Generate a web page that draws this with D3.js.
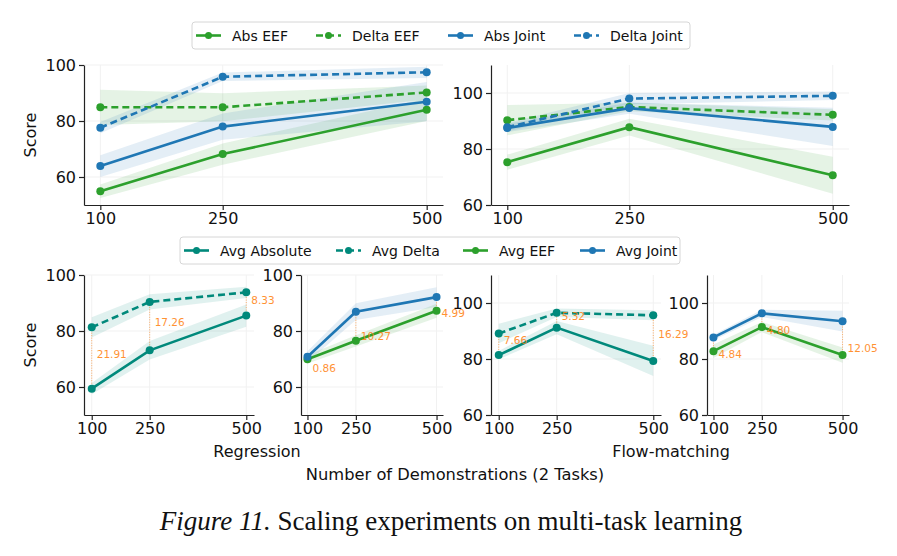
<!DOCTYPE html>
<html>
<head>
<meta charset="utf-8">
<script src="https://cdn.jsdelivr.net/npm/d3@7"></script>
<style>
  body { margin: 0; background: #fff; }
  svg text { font-family: "DejaVu Sans", sans-serif; }
</style>
</head>
<body>
<div id="chart"></div>
<script>

// x values shared by every panel
const demos = [100, 250, 500];
const yTicks = [60, 80, 100];

// Top-left (regression) per setting: mean score and std band
const regAbsEEF = [54.9, 68.2, 84.0];
const regAbsEEFStd = [2.4, 3.8, 4.0];
const regDeltaEEF = [84.9, 84.9, 90.2];
const regDeltaEEFStd = [6.3, 5.0, 2.5];
const regAbsJoint = [63.9, 78.0, 86.9];
const regAbsJointStd = [3.9, 4.7, 7.0];
const regDeltaJoint = [77.6, 95.8, 97.4];
const regDeltaJointStd = [2.0, 1.5, 2.0];

// Top-right (flow-matching)
const fmAbsEEF = [75.3, 87.8, 70.6];
const fmAbsEEFStd = [2.7, 3.0, 6.6];
const fmDeltaEEF = [90.3, 95.0, 92.2];
const fmDeltaEEFStd = [5.4, 1.5, 2.0];
const fmAbsJoint = [87.5, 94.6, 87.9];
const fmAbsJointStd = [1.5, 2.0, 6.8];
const fmDeltaJoint = [87.8, 98.0, 99.0];
const fmDeltaJointStd = [1.5, 2.0, 1.5];

// Bottom row averages
const regAvgAbs = [59.4, 73.1, 85.5];
const regAvgAbsStd = [2.0, 3.3, 4.0];
const regAvgDelta = [81.3, 90.4, 93.8];
const regAvgDeltaStd = [3.6, 2.7, 2.0];
const regAvgEEF = [69.9, 76.5, 87.2];
const regAvgEEFStd = [1.5, 2.0, 2.5];
const regAvgJoint = [70.8, 86.9, 92.1];
const regAvgJointStd = [2.0, 3.0, 3.5];

const fmAvgAbs = [81.4, 91.2, 79.3];
const fmAvgAbsStd = [1.5, 2.4, 5.4];
const fmAvgDelta = [89.1, 96.5, 95.6];
const fmAvgDeltaStd = [3.5, 1.5, 1.8];
const fmAvgEEF = [82.8, 91.4, 81.4];
const fmAvgEEFStd = [2.4, 1.8, 2.7];
const fmAvgJoint = [87.7, 96.3, 93.5];
const fmAvgJointStd = [1.0, 1.3, 3.7];

// gap labels written on the bottom panels
const regAbsDeltaGap = ["21.91", "17.26", "8.33"];
const regEEFJointGap = ["0.86", "10.27", "4.99"];
const fmAbsDeltaGap = ["7.66", "5.32", "16.29"];
const fmEEFJointGap = ["4.84", "4.80", "12.05"];

const green = "#2ca02c", blue = "#1f77b4", teal = "#00897b", orange = "#ff7f0e";

const svg = d3.select("#chart").append("svg")
    .attr("width", 897)
    .attr("height", 556);

let clipId = 0;

function drawPanel(p) {
    let x = d3.scaleLinear().domain([80, 520]).range([p.left, p.right]);
    let y = d3.scaleLinear().domain(p.yDomain).range([p.bottom, p.top]);

    let g = svg.append("g");
    let id = "clip" + (clipId++);
    g.append("clipPath").attr("id", id)
        .append("rect")
        .attr("x", p.left).attr("y", p.top)
        .attr("width", p.right - p.left).attr("height", p.bottom - p.top);

    // faint grid
    g.selectAll(".vgrid").data(demos).enter().append("line")
        .attr("x1", d => x(d)).attr("x2", d => x(d))
        .attr("y1", p.top).attr("y2", p.bottom)
        .style("stroke", "#f1f1f1").style("stroke-width", 1);
    g.selectAll(".hgrid").data(yTicks.filter(t => t > p.yDomain[0])).enter().append("line")
        .attr("x1", p.left).attr("x2", p.right)
        .attr("y1", d => y(d)).attr("y2", d => y(d))
        .style("stroke", "#f1f1f1").style("stroke-width", 1);

    let plot = g.append("g").attr("clip-path", "url(#" + id + ")");

    // std bands
    p.series.forEach(function(s) {
        let area = d3.area()
            .x((d, i) => x(demos[i]))
            .y0((d, i) => y(d - s.std[i]))
            .y1((d, i) => y(d + s.std[i]));
        plot.append("path").datum(s.values)
            .attr("d", area)
            .style("fill", s.color)
            .style("opacity", 0.12);
    });

    // gap markers between the two series
    if (p.gap) {
        let a = p.series[0].values, b = p.series[1].values;
        demos.forEach(function(d, i) {
            plot.append("line")
                .attr("x1", x(d)).attr("x2", x(d))
                .attr("y1", y(a[i])).attr("y2", y(b[i]))
                .style("stroke", orange).style("stroke-width", 1)
                .style("stroke-dasharray", "1,1.5")
                .style("opacity", 0.6);
        });
    }

    // lines + markers
    p.series.forEach(function(s) {
        let line = d3.line()
            .x((d, i) => x(demos[i]))
            .y(d => y(d));
        plot.append("path").datum(s.values)
            .attr("d", line)
            .style("fill", "none")
            .style("stroke", s.color)
            .style("stroke-width", 2.6)
            .style("stroke-dasharray", s.dashed ? "7,4" : null);
        plot.selectAll(null).data(s.values).enter().append("circle")
            .attr("cx", (d, i) => x(demos[i]))
            .attr("cy", d => y(d))
            .attr("r", 4)
            .style("fill", s.color);
    });

    if (p.gap) {
        let a = p.series[0].values, b = p.series[1].values;
        g.selectAll(null).data(p.gap).enter().append("text")
            .attr("x", (d, i) => x(demos[i]) + 5)
            .attr("y", (d, i) => (y(a[i]) + y(b[i])) / 2 + p.gapDy)
            .style("font-size", "10.5px")
            .style("fill", orange)
            .style("opacity", 0.85)
            .text(d => d);
    }

    // axes
    let xAxis = g.append("g")
        .attr("transform", "translate(0," + p.bottom + ")")
        .call(d3.axisBottom(x).tickValues(demos).tickSize(5).tickSizeOuter(0).tickPadding(3));
    let yAxis = g.append("g")
        .attr("transform", "translate(" + p.left + ",0)")
        .call(d3.axisLeft(y).tickValues(yTicks).tickSize(5).tickSizeOuter(0).tickPadding(3));
    [xAxis, yAxis].forEach(function(ax) {
        ax.attr("font-family", "DejaVu Sans").attr("font-size", 16);
        ax.selectAll("path, line").style("stroke", "#222").style("stroke-width", 1.2);
        ax.selectAll("text").style("fill", "#111");
    });

    if (p.ylabel) {
        g.append("text")
            .attr("transform", "translate(36," + (p.top + p.bottom) / 2 + ") rotate(-90)")
            .style("text-anchor", "middle")
            .style("font-size", "16px")
            .style("fill", "#111")
            .text(p.ylabel);
    }
}

// top row
drawPanel({
    left: 84, right: 443, top: 65, bottom: 205, yDomain: [50, 100], ylabel: "Score",
    series: [
        { values: regAbsEEF, std: regAbsEEFStd, color: green, dashed: false },
        { values: regDeltaEEF, std: regDeltaEEFStd, color: green, dashed: true },
        { values: regAbsJoint, std: regAbsJointStd, color: blue, dashed: false },
        { values: regDeltaJoint, std: regDeltaJointStd, color: blue, dashed: true }
    ]
});
drawPanel({
    left: 491, right: 849, top: 65, bottom: 205, yDomain: [60, 110],
    series: [
        { values: fmAbsEEF, std: fmAbsEEFStd, color: green, dashed: false },
        { values: fmDeltaEEF, std: fmDeltaEEFStd, color: green, dashed: true },
        { values: fmAbsJoint, std: fmAbsJointStd, color: blue, dashed: false },
        { values: fmDeltaJoint, std: fmDeltaJointStd, color: blue, dashed: true }
    ]
});

// bottom row
drawPanel({
    left: 84, right: 254, top: 275, bottom: 415, yDomain: [50, 100], ylabel: "Score",
    gap: regAbsDeltaGap, gapDy: 0,
    series: [
        { values: regAvgAbs, std: regAvgAbsStd, color: teal, dashed: false },
        { values: regAvgDelta, std: regAvgDeltaStd, color: teal, dashed: true }
    ]
});
drawPanel({
    left: 301, right: 443, top: 275, bottom: 415, yDomain: [50, 100],
    gap: regEEFJointGap, gapDy: 13.5,
    series: [
        { values: regAvgEEF, std: regAvgEEFStd, color: green, dashed: false },
        { values: regAvgJoint, std: regAvgJointStd, color: blue, dashed: false }
    ]
});
drawPanel({
    left: 491, right: 661, top: 275, bottom: 415, yDomain: [60, 110],
    gap: fmAbsDeltaGap, gapDy: 0,
    series: [
        { values: fmAvgAbs, std: fmAvgAbsStd, color: teal, dashed: false },
        { values: fmAvgDelta, std: fmAvgDeltaStd, color: teal, dashed: true }
    ]
});
drawPanel({
    left: 707, right: 849, top: 275, bottom: 415, yDomain: [60, 110],
    gap: fmEEFJointGap, gapDy: 13.5,
    series: [
        { values: fmAvgEEF, std: fmAvgEEFStd, color: green, dashed: false },
        { values: fmAvgJoint, std: fmAvgJointStd, color: blue, dashed: false }
    ]
});

// legends
function drawLegend(box, items) {
    let g = svg.append("g");
    g.append("rect")
        .attr("x", box.x).attr("y", box.y)
        .attr("width", box.w).attr("height", box.h)
        .attr("rx", 3)
        .style("fill", "#fff").style("stroke", "#d6d6d6").style("stroke-width", 1);
    let cy = box.y + box.h / 2;
    items.forEach(function(it) {
        g.append("line")
            .attr("x1", it.x).attr("x2", it.x + 25)
            .attr("y1", cy).attr("y2", cy)
            .style("stroke", it.color).style("stroke-width", 2.6)
            .style("stroke-dasharray", it.dashed ? "7,4" : null);
        g.append("circle")
            .attr("cx", it.x + 12.5).attr("cy", cy).attr("r", 3.5)
            .style("fill", it.color);
        g.append("text")
            .attr("x", it.x + 36).attr("y", cy + 5)
            .style("font-size", "14px").style("fill", "#111")
            .text(it.label);
    });
}

drawLegend({ x: 192, y: 22, w: 498, h: 27 }, [
    { label: "Abs EEF", color: green, dashed: false, x: 196 },
    { label: "Delta EEF", color: green, dashed: true, x: 316 },
    { label: "Abs Joint", color: blue, dashed: false, x: 448 },
    { label: "Delta Joint", color: blue, dashed: true, x: 574 }
]);
drawLegend({ x: 180, y: 237, w: 500, h: 27 }, [
    { label: "Avg Absolute", color: teal, dashed: false, x: 184 },
    { label: "Avg Delta", color: teal, dashed: true, x: 336 },
    { label: "Avg EEF", color: green, dashed: false, x: 463 },
    { label: "Avg Joint", color: blue, dashed: false, x: 580 }
]);

// shared x labels
svg.append("text").attr("x", 257).attr("y", 457)
    .style("text-anchor", "middle").style("font-size", "16px").style("fill", "#111")
    .text("Regression");
svg.append("text").attr("x", 671).attr("y", 457)
    .style("text-anchor", "middle").style("font-size", "16px").style("fill", "#111")
    .text("Flow-matching");
svg.append("text").attr("x", 455).attr("y", 480)
    .style("text-anchor", "middle").style("font-size", "16.3px").style("fill", "#111")
    .text("Number of Demonstrations (2 Tasks)");

// caption
let cap = svg.append("text").attr("x", 451).attr("y", 530)
    .style("text-anchor", "middle")
    .style("font-family", "'Liberation Serif', 'Times New Roman', serif")
    .style("font-size", "27px").style("fill", "#111");
cap.append("tspan").style("font-style", "italic").text("Figure 11.");
cap.append("tspan").text(" Scaling experiments on multi-task learning");

</script>
</body>
</html>
